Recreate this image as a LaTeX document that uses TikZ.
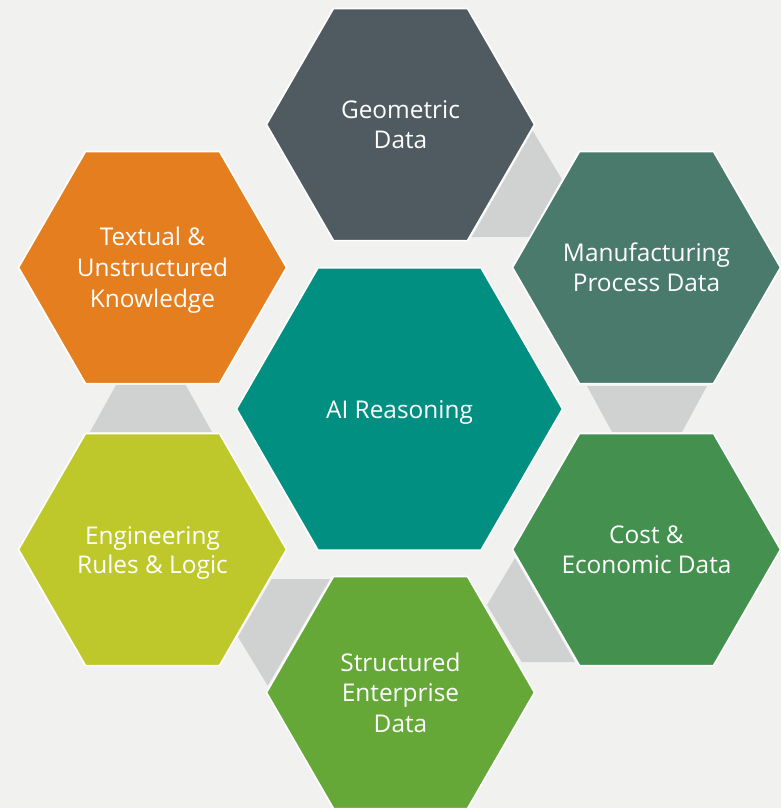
\documentclass[tikz,border=0pt]{standalone}
\usepackage{fontspec}
\setmainfont{Open Sans}
\usetikzlibrary{shapes.geometric,calc}
\definecolor{paper}{HTML}{F1F1F0}
\definecolor{linkgrey}{HTML}{D0D2D1}
\definecolor{cGeo}{HTML}{4F5B60}
\definecolor{cMan}{HTML}{4A7A6C}
\definecolor{cCost}{HTML}{43904F}
\definecolor{cStr}{HTML}{65A838}
\definecolor{cEng}{HTML}{BFC82A}
\definecolor{cTxt}{HTML}{E57E1E}
\definecolor{cAI}{HTML}{008F81}
\newcommand{\lowr}[1]{\rule{0pt}{#1pt}}
\tikzset{
  hexa/.style={regular polygon,regular polygon sides=6,draw=white,line width=1.6pt,
    inner sep=0pt,outer sep=0pt,minimum size=268pt,fill=#1},
  bighexa/.style={hexa=#1,minimum size=326pt},
  hexatext/.style={text=white,align=center,inner sep=0pt,
    font=\fontsize{24.4}{30}\selectfont},
  linkshape/.style={fill=linkgrey,draw=none}
}
\begin{document}
\begin{tikzpicture}[x=1pt,y=-1pt]
\useasboundingbox (0,0) rectangle (781,808);
\fill[paper] (0,0) rectangle (781,808);
\path
 (400.5,124.5) coordinate (cg)
 (646.5,267.5) coordinate (cm)
 (646.5,549.5) coordinate (cc)
 (400.5,692.5) coordinate (cs)
 (152.5,549.5) coordinate (ce)
 (152.5,267.5) coordinate (ct)
 (399.5,409) coordinate (ca);
\fill[linkshape] ($(cg)+(132.2,6.2)$) -- ($(cm)+(-84.8,-88.5)$) -- ($(cm)+(-117.5,-30.5)$) -- ($(cg)+(71.2,112.5)$) -- cycle;
\fill[linkshape] ($(cm)+(-59.5,118.5)$) -- ($(cm)+(60.5,118.5)$) -- ($(cc)+(35.5,-117.5)$) -- ($(cc)+(-34.5,-117.5)$) -- cycle;
\fill[linkshape] ($(cc)+(-131.5,8.5)$) -- ($(cc)+(-71.5,112.5)$) -- ($(cc)+(-124.8,112.5)$) -- ($(cs)+(86.5,-87.5)$) -- cycle;
\fill[linkshape] ($(cs)+(-70.5,-113.5)$) -- ($(cs)+(-128.8,-113.5)$) -- ($(ce)+(85.5,87.5)$) -- ($(cs)+(-132.8,-6.8)$) -- cycle;
\fill[linkshape] ($(ct)+(-36.5,117.5)$) -- ($(ct)+(33.2,117.5)$) -- ($(ce)+(59.5,-117.5)$) -- ($(ce)+(-62.5,-117.5)$) -- cycle;
\node[hexa=cGeo,label={[hexatext,name=geotext]center:{Geometric\\Data}}] (geo) at (cg) {};
\node[hexa=cMan,label={[hexatext,name=mantext]center:{Manufacturing\\Process Data}}] (man) at (cm) {};
\node[hexa=cCost,label={[hexatext,name=costtext]center:{Cost \&\\Economic Data}}] (cost) at (cc) {};
\node[hexa=cStr,label={[hexatext,name=strtext]center:{Structured\\Enterprise\\[1pt]Data}}] (str) at (cs) {};
\node[hexa=cEng,label={[hexatext,name=engtext]center:{\lowr{24.6}Engineering\\[-1pt]Rules \& Logic}}] (eng) at (ce) {};
\node[hexa=cTxt,label={[hexatext,name=txttext]center:{\lowr{24}Textual \&\\[1pt]Unstructured\\[1pt]Knowledge}}] (txt) at (ct) {};
\node[bighexa=cAI,label={[hexatext,name=aitext]center:{\lowr{24}AI Reasoning}}] (ai) at (ca) {};
\end{tikzpicture}
\end{document}
